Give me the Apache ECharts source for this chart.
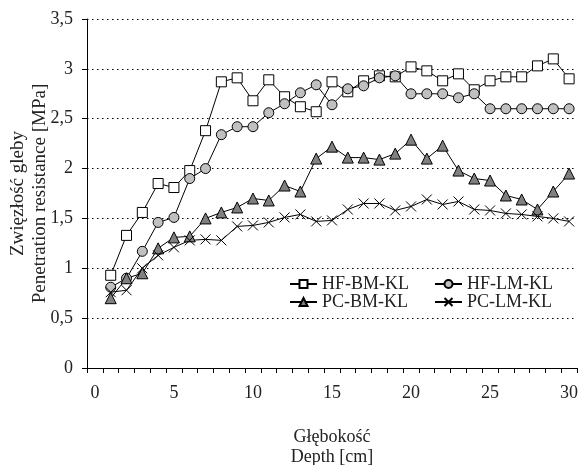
<!DOCTYPE html>
<html>
<head lang="pl">
    <meta charset="UTF-8">
    <title>Zwięzłość gleby</title>
    <style>
        html, body { margin: 0; padding: 0; background: #fff; }
    </style>
</head>
<body>
<div id="container" style="height:465px;width:579px"></div>
<script type="text/javascript" src="https://cdn.jsdelivr.net/npm/echarts@6/dist/echarts.min.js"></script>
<script type="text/javascript">
    // glebokosc 0..30 cm (kategorie), pomiary od 1 cm
    var categories = [];
    for (var i = 0; i <= 30; i++) categories.push(String(i));
    var depth = [1,2,3,4,5,6,7,8,9,10,11,12,13,14,15,16,17,18,19,20,21,22,23,24,25,26,27,28,29,30];

    var hfBm = [0.93,1.33,1.56,1.85,1.81,1.98,2.38,2.87,2.91,2.68,2.89,2.72,2.62,2.57,2.87,2.77,2.88,2.93,2.92,3.02,2.98,2.88,2.95,2.79,2.88,2.92,2.92,3.03,3.10,2.90];
    var hfLm = [0.81,0.90,1.17,1.46,1.51,1.90,2.00,2.34,2.42,2.42,2.56,2.65,2.76,2.84,2.64,2.80,2.83,2.91,2.93,2.75,2.75,2.75,2.71,2.75,2.60,2.60,2.60,2.60,2.60,2.60];
    var pcBm = [0.70,0.90,0.95,1.20,1.31,1.32,1.50,1.56,1.61,1.70,1.68,1.83,1.77,2.10,2.22,2.11,2.11,2.09,2.15,2.29,2.10,2.23,1.98,1.90,1.88,1.73,1.69,1.59,1.77,1.95];
    var pcLm = [0.76,0.78,1.00,1.13,1.21,1.28,1.29,1.28,1.42,1.43,1.46,1.51,1.54,1.47,1.48,1.59,1.65,1.65,1.58,1.62,1.69,1.64,1.67,1.59,1.58,1.55,1.54,1.52,1.50,1.47];

    var font = 'Liberation Serif';
    var crossPath = 'path://M0,0L10,10M10,0L0,10';

    function pairs(vals) {
        return depth.map(function (d, k) { return [String(d), vals[k]]; });
    }

    function makeSeries(name, vals, symbol, size, fill) {
        return {
            name: name,
            type: 'line',
            data: pairs(vals),
            symbol: symbol,
            symbolSize: size,
            showAllSymbol: true,
            lineStyle: { color: '#000', width: 1 },
            itemStyle: { color: fill, borderColor: '#000', borderWidth: 1 },
            emphasis: { disabled: true },
            animation: false
        };
    }

    function legendCol(left, names) {
        return {
            orient: 'vertical',
            left: left, top: 275,
            padding: 0,
            itemWidth: 27, itemHeight: 10, itemGap: 0,
            data: names,
            textStyle: { fontFamily: font, fontSize: 18, color: '#222' }
        };
    }

    var myChart = echarts.init(document.getElementById('container'));

    var option = {
        backgroundColor: '#fff',
        textStyle: { fontFamily: font, color: '#222' },
        grid: { left: 87, right: 2, top: 19, bottom: 97, containLabel: false, outerBoundsMode: 'none' },
        legend: [
            legendCol(289, ['HF-BM-KL', 'PC-BM-KL']),
            legendCol(434, ['HF-LM-KL', 'PC-LM-KL'])
        ],
        xAxis: {
            type: 'category',
            data: categories,
            boundaryGap: true,
            name: 'Głębokość\nDepth [cm]',
            nameLocation: 'middle',
            nameGap: 59,
            nameMoveOverlap: false,
            nameTextStyle: { fontFamily: font, fontSize: 18, color: '#222', lineHeight: 20 },
            axisLine: { lineStyle: { color: '#000', width: 1 } },
            axisTick: { show: true, interval: 0, length: 5, lineStyle: { color: '#000' } },
            axisLabel: { interval: 4, margin: 16, fontFamily: font, fontSize: 18, color: '#222' },
            splitLine: { show: false }
        },
        yAxis: {
            type: 'value',
            min: 0, max: 3.5, interval: 0.5,
            name: 'Zwięzłość gleby\nPenetration resistance [MPa]',
            nameLocation: 'middle',
            nameGap: 36,
            nameRotate: 90,
            nameMoveOverlap: false,
            nameTextStyle: { fontFamily: font, fontSize: 19, color: '#222', lineHeight: 22 },
            axisLine: { show: true, lineStyle: { color: '#000', width: 1 } },
            axisTick: { show: true, length: 5, lineStyle: { color: '#000' } },
            axisLabel: {
                margin: 14, fontFamily: font, fontSize: 18, color: '#222',
                formatter: function (v) { return String(v).replace('.', ','); }
            },
            splitLine: { show: true, lineStyle: { color: '#000', width: 1, type: [1.5, 3.5] } }
        },
        series: [
            makeSeries('HF-BM-KL', hfBm, 'rect', 10, '#fff'),
            makeSeries('HF-LM-KL', hfLm, 'circle', 10, '#c0c0c0'),
            makeSeries('PC-BM-KL', pcBm, 'triangle', 11, '#808080'),
            makeSeries('PC-LM-KL', pcLm, crossPath, 10, 'none')
        ]
    };
    myChart.setOption(option);
</script>
</body>
</html>
